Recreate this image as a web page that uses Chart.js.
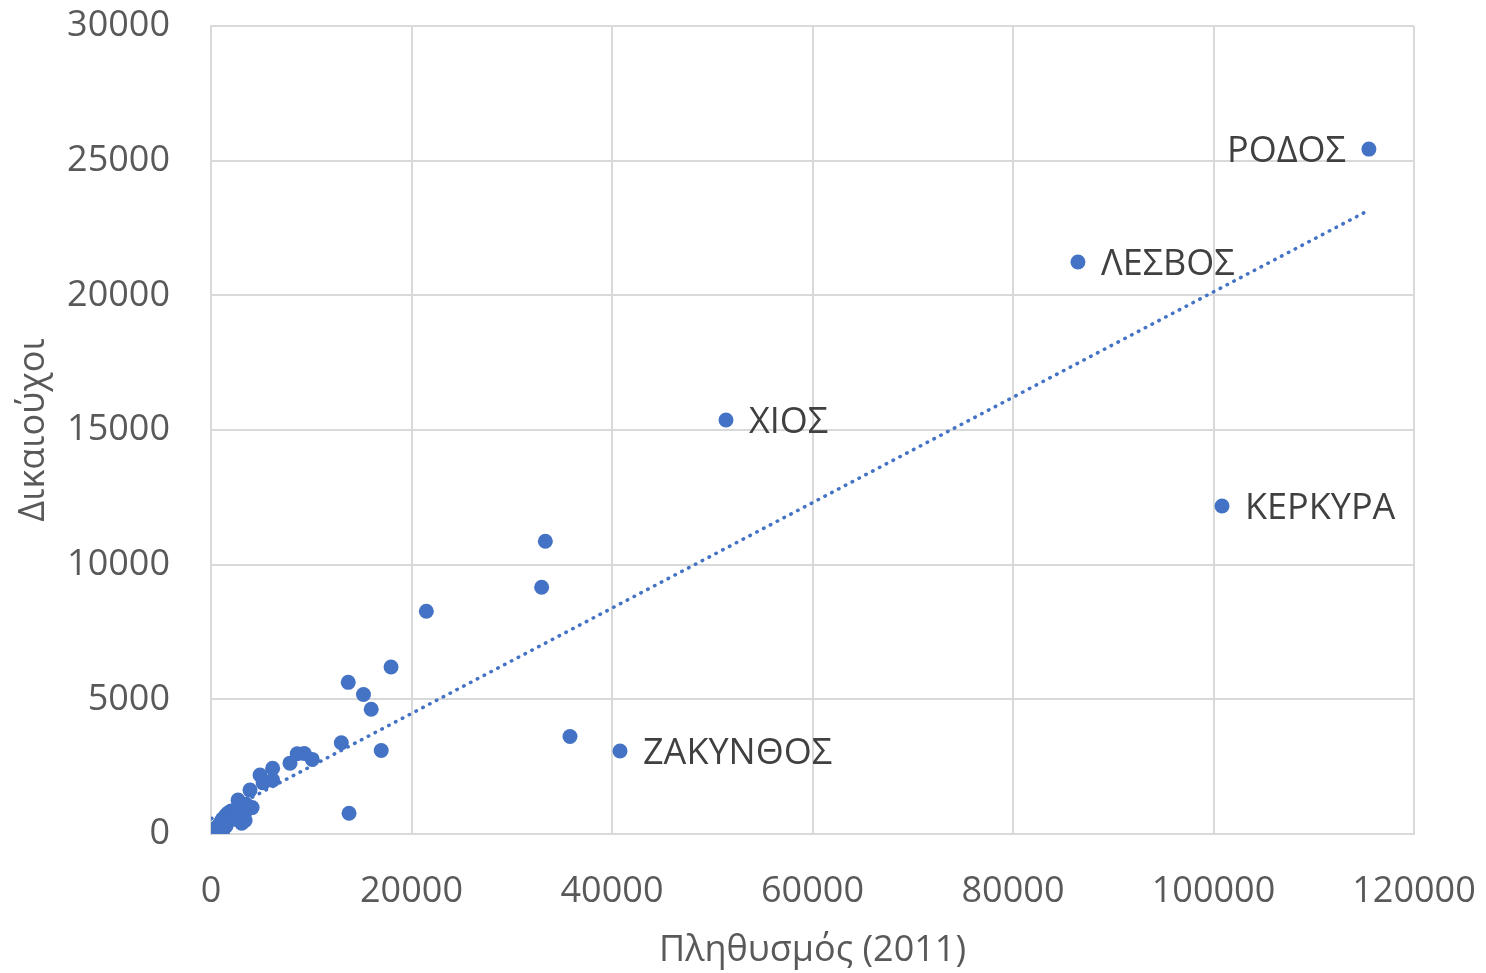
<!DOCTYPE html>
<html>
<head>
<meta charset="utf-8">
<script src="https://cdn.jsdelivr.net/npm/chart.js@4.4.0/dist/chart.umd.min.js"></script>
<style>
html,body{margin:0;padding:0;background:#fff;}
#wrap{width:1486px;height:973px;position:relative;}
</style>
</head>
<body>
<div id="wrap"><canvas id="c" width="1486" height="973"></canvas></div>
<script>
// Population (2011) per island
const population = [
  115500, 86480, 51370, 100850, 40800,
  33350, 32980, 35810, 21480, 17960,
  13690, 15210, 15980, 16980, 13770, 13000,
  10100, 9300, 8600, 7880, 6150, 6150,
  4890, 5200, 3890, 4100, 3690, 3300, 3500, 3060,
  2700, 2900, 2500, 2200, 2000, 1700, 1500, 1300,
  1100, 1000, 800, 600, 450, 300, 150, 50,
  700, 1200, 900, 1800, 2300, 2600, 3400, 2800, 1500, 400
];
// Beneficiaries (Δικαιούχοι)
const beneficiaries = [
  25430, 21240, 15370, 12180, 3080,
  10870, 9160, 3620, 8270, 6200,
  5630, 5180, 4630, 3100, 770, 3390,
  2770, 2990, 2980, 2630, 2440, 2000,
  2190, 1900, 1630, 980, 960, 700, 1100, 400,
  1260, 1000, 900, 700, 850, 780, 700, 600,
  520, 450, 330, 250, 200, 120, 80, 30,
  100, 150, 350, 500, 550, 800, 500, 1100, 300, 20
];
// Point names (only labelled points)
const names = [
  "ΡΟΔΟΣ", "ΛΕΣΒΟΣ", "ΧΙΟΣ", "ΚΕΡΚΥΡΑ", "ΖΑΚΥΝΘΟΣ"
];
const labelSide = ["left", "right", "right", "right", "right"];

const xTicks = [0, 20000, 40000, 60000, 80000, 100000, 120000];
const yTicks = [0, 5000, 10000, 15000, 20000, 25000, 30000];

const points = population.map((x, i) => ({x: x, y: beneficiaries[i]}));

// least-squares linear trend line
const n = population.length;
let sx = 0, sy = 0, sxx = 0, sxy = 0;
for (let i = 0; i < n; i++) {
  sx += population[i]; sy += beneficiaries[i];
  sxx += population[i] * population[i]; sxy += population[i] * beneficiaries[i];
}
const slope = (n * sxy - sx * sy) / (n * sxx - sx * sx);
const intercept = (sy - slope * sx) / n;
const xmin = Math.min(...population), xmax = Math.max(...population);
const trend = [{x: xmin, y: intercept + slope * xmin}, {x: xmax, y: intercept + slope * xmax}];

const FONT = "'Open Sans', sans-serif";
const BLUE = "#4472C4";

const labelPlugin = {
  id: 'pointLabels',
  afterDatasetsDraw(chart) {
    const ctx = chart.ctx;
    const xs = chart.scales.x, ys = chart.scales.y;
    ctx.save();
    ctx.font = "36px " + FONT;
    ctx.fillStyle = "#404040";
    ctx.textBaseline = "middle";
    names.forEach((name, i) => {
      const px = xs.getPixelForValue(population[i]);
      const py = ys.getPixelForValue(beneficiaries[i]);
      if (labelSide[i] === "left") {
        ctx.textAlign = "right";
        ctx.fillText(name, px - 23, py + 3);
      } else {
        ctx.textAlign = "left";
        ctx.fillText(name, px + 23, py + 3);
      }
    });
    ctx.restore();
  }
};

new Chart(document.getElementById('c'), {
  type: 'scatter',
  data: {
    datasets: [
      {
        label: 'Δικαιούχοι',
        data: points,
        backgroundColor: BLUE,
        borderColor: BLUE,
        pointRadius: 7.5,
        pointBorderWidth: 0,
        pointHoverRadius: 7.5,
        order: 2
      },
      {
        label: 'trend',
        type: 'line',
        data: trend,
        borderColor: BLUE,
        borderWidth: 3.5,
        borderDash: [0.5, 7.2],
        borderCapStyle: 'round',
        pointRadius: 0,
        fill: false,
        order: 1
      }
    ]
  },
  options: {
    responsive: false,
    animation: false,
    devicePixelRatio: 1,
    layout: {padding: 0, autoPadding: false},
    plugins: {legend: {display: false}, tooltip: {enabled: false}},
    scales: {
      x: {
        type: 'linear',
        min: 0, max: 120000,
        afterBuildTicks: (s) => { s.ticks = xTicks.map(v => ({value: v})); },
        afterFit: (s) => { s.height = 139; s.paddingLeft = 0; s.paddingRight = 72; s.paddingTop = 0; s.paddingBottom = 0; },
        ticks: {color: '#595959', font: {family: FONT, size: 36}, padding: 36, maxRotation: 0, autoSkip: false,
                callback: (v) => String(v)},
        grid: {color: '#d9d9d9', lineWidth: 2, drawTicks: false},
        border: {color: '#d9d9d9', width: 2},
        title: {display: true, text: 'Πληθυσμός (2011)', color: '#595959', font: {family: FONT, size: 36}, padding: {top: 0, bottom: 1}}
      },
      y: {
        type: 'linear',
        min: 0, max: 30000,
        afterBuildTicks: (s) => { s.ticks = yTicks.map(v => ({value: v})); },
        afterFit: (s) => { s.width = 211; s.paddingTop = 26; s.paddingBottom = 0; s.paddingLeft = 0; s.paddingRight = 0; },
        ticks: {color: '#595959', font: {family: FONT, size: 36}, padding: 41, autoSkip: false,
                callback: (v) => String(v)},
        grid: {color: '#d9d9d9', lineWidth: 2, drawTicks: false},
        border: {color: '#d9d9d9', width: 2},
        title: {display: true, text: 'Δικαιούχοι', color: '#595959', font: {family: FONT, size: 36}, padding: {top: 12, bottom: 0}}
      }
    }
  },
  plugins: [labelPlugin]
});
</script>
</body>
</html>
